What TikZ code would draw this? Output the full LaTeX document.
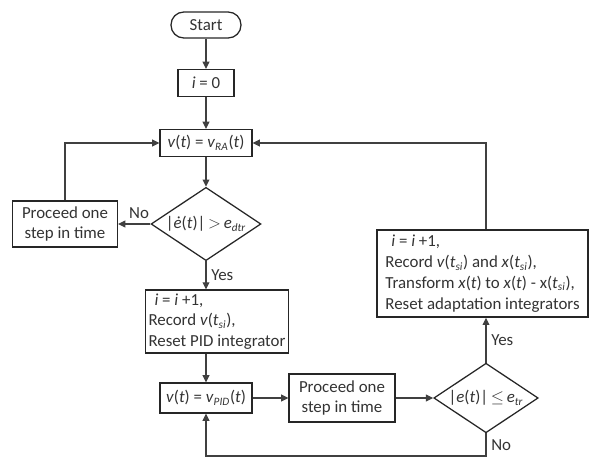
\documentclass[tikz,border=0pt]{standalone}
\usepackage{fontspec}
\setmainfont{Carlito}
\usetikzlibrary{arrows.meta,shapes.geometric}

\newcommand{\vr}[1]{\textit{#1}}
\newcommand{\si}{\textsubscript{\vr{si}}}

\begin{document}
\begin{tikzpicture}[
  >={Triangle[length=1.8mm,width=1.7mm]},
  font=\fontsize{12pt}{14.8pt}\selectfont,text=black!80,
  box/.style={rectangle,draw=black!85,line width=0.9pt,inner sep=2pt,align=center},
  term/.style={rectangle,rounded corners=3.2mm,draw=black!85,line width=0.9pt,
               minimum width=17.5mm,minimum height=6.5mm},
  dec/.style={diamond,draw=black!85,line width=0.9pt,inner sep=1pt,aspect=1.5},
  flow/.style={->,line width=0.8pt,draw=black!75},
]
  \useasboundingbox (0,0) rectangle (14.725,-11.5);

  % nodes on the main column
  \node[term] (start) at (5.15,-0.625) {Start};
  \node[box,minimum width=14mm,minimum height=6.75mm] (init) at (5.15,-2.075) {\vr{i} = 0};
  \node[box,minimum width=23mm,minimum height=6.75mm] (vra) at (5.15,-3.575)
    {\vr{v}(\vr{t}) = \vr{v}\textsubscript{\vr{RA}}(\vr{t})};
  \node[dec,minimum width=25.5mm,minimum height=17.25mm] (chk1) at (5.15,-5.6)
    {|\vr{ė}(\vr{t})|\,$>$\,\vr{e}\textsubscript{\vr{dtr}}};
  \node[box,minimum width=26.25mm,minimum height=11.5mm] (wait1) at (1.625,-5.6)
    {Proceed one\\step in time};
  \node[box,align=left,minimum width=34.5mm,minimum height=15.75mm] (rec1) at (5.425,-8.04)
    {\hspace*{1.5mm}\vr{i} = \vr{i} +1,\\Record \vr{v}(\vr{t}\si),\\Reset PID integrator};
  \node[box,minimum width=23mm,minimum height=7.5mm] (vpid) at (5.15,-9.95)
    {\vr{v}(\vr{t}) = \vr{v}\textsubscript{\vr{PID}}(\vr{t})};

  % second branch
  \node[box,minimum width=26.5mm,minimum height=12mm] (wait2) at (8.55,-9.95)
    {Proceed one\\step in time};
  \node[dec,minimum width=24.5mm,minimum height=15.5mm] (chk2) at (12.15,-9.95)
    {|\vr{e}(\vr{t})|\,$\leq$\,\vr{e}\textsubscript{\vr{tr}}};
  \node[box,align=left,minimum width=52.75mm,minimum height=21.75mm] (rec2) at (12.0625,-6.84)
    {\hspace*{1.5mm}\vr{i} = \vr{i} +1,\\
     Record \vr{v}(\vr{t}\si) and \vr{x}(\vr{t}\si),\\
     Transform \vr{x}(\vr{t}) to \vr{x}(\vr{t}) - x(\vr{t}\si),\\
     Reset adaptation integrators};

  \coordinate (bot) at (0,-11.4);

  % flow
  \draw[flow] (start) -- (init);
  \draw[flow] (init) -- (vra);
  \draw[flow] (vra) -- (chk1);
  \draw[flow] (chk1) -- node[above,pos=0.35]{No} (wait1);
  \draw[flow] (wait1) |- (vra);
  \draw[flow] (chk1) -- node[right]{Yes} (chk1 |- rec1.north);
  \draw[flow] (vpid |- rec1.south) -- (vpid);
  \draw[flow] (vpid) -- (wait2);
  \draw[flow] (wait2) -- (chk2);
  \draw[flow] (chk2) -- node[right]{Yes} (chk2 |- rec2.south);
  \draw[flow] (chk2 |- rec2.north) |- (vra);
  \draw[flow] (chk2) |- node[right,pos=0.25]{No} (vpid |- bot) -- (vpid);
\end{tikzpicture}
\end{document}
